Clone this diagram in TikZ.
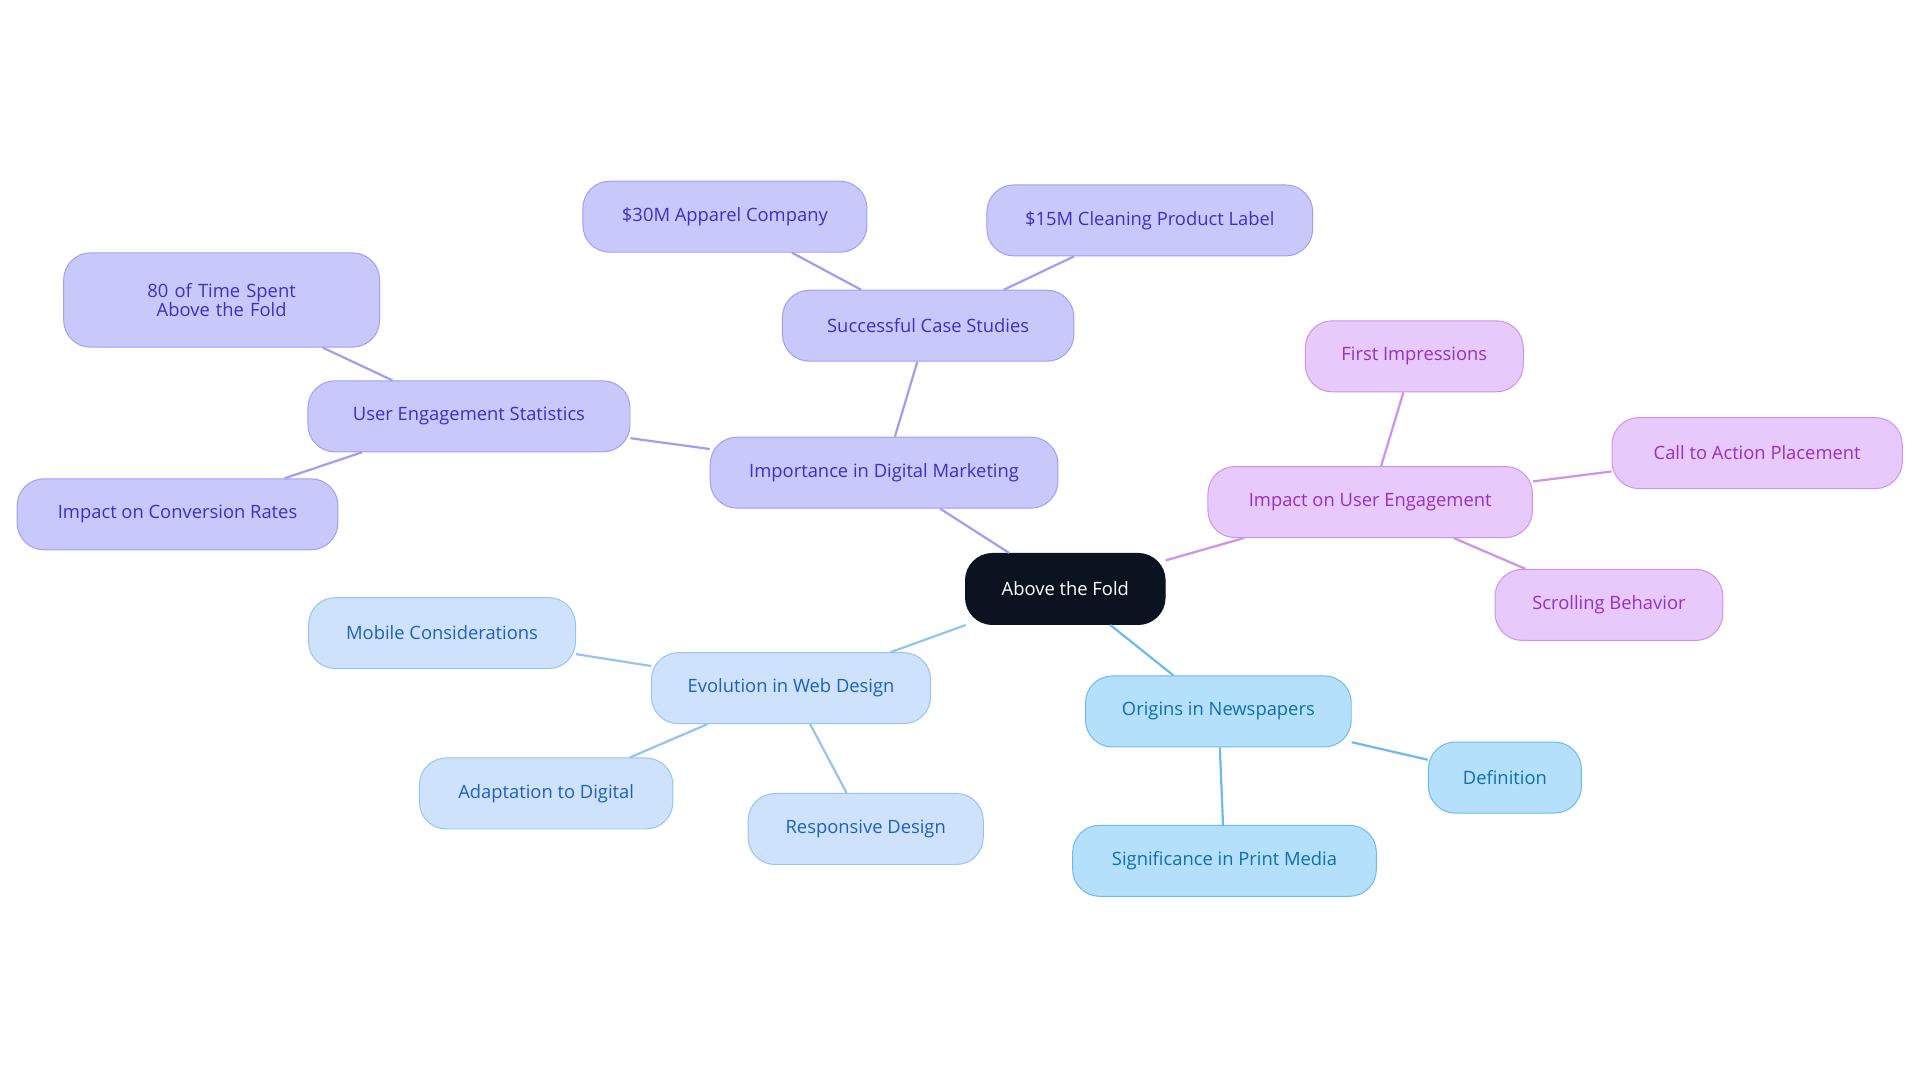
\documentclass[tikz,border=0pt]{standalone}
\usepackage{fontspec}
\setmainfont{Open Sans}
\definecolor{pf}{HTML}{C9C8FB}\definecolor{pd}{HTML}{A19EF2}\definecolor{pt}{HTML}{3A30C4}
\definecolor{mf}{HTML}{E8C9FB}\definecolor{md}{HTML}{CC92EE}\definecolor{mt}{HTML}{9430C4}
\definecolor{lf}{HTML}{CEE3FB}\definecolor{ld}{HTML}{96C3F0}\definecolor{lt}{HTML}{1F5FC0}
\definecolor{sf}{HTML}{B4E0FC}\definecolor{sd}{HTML}{6DB9EE}\definecolor{st}{HTML}{106DB0}
\definecolor{cf}{HTML}{0B1220}
\tikzset{base/.style={rounded corners=22pt,minimum height=58pt,font=\fontsize{15}{15}\selectfont,align=center,inner sep=4pt,line width=0.8pt},
pn/.style={base,fill=pf,draw=pd,text=pt},
mn/.style={base,fill=mf,draw=md,text=mt},
ln/.style={base,fill=lf,draw=ld,text=lt},
sn/.style={base,fill=sf,draw=sd,text=st},
ed/.style={line width=1.8pt}}
\begin{document}
\begin{tikzpicture}[x=1pt,y=-1pt]
\useasboundingbox (0,0) rectangle (1568,884);
\node[base,fill=cf,draw=cf,text=white,minimum width=163pt] (c) at (870,481) {Above the Fold};
\node[pn,minimum width=284pt] (imp) at (722,386) {Importance in Digital Marketing};
\node[pn,minimum width=238pt] (suc) at (758,266) {Successful Case Studies};
\node[pn,minimum width=232pt] (app) at (592,177) {\$30M Apparel Company};
\node[pn,minimum width=266pt] (cle) at (939,180) {\$15M Cleaning Product Label};
\node[pn,minimum width=263pt] (ues) at (383,340) {User Engagement Statistics};
\node[pn,minimum width=258pt,minimum height=77pt,text width=220pt,font=\fontsize{15}{16}\selectfont] (tim) at (181,245) {80 of Time Spent Above the Fold};
\node[pn,minimum width=262pt] (con) at (145,420) {Impact on Conversion Rates};
\node[mn,minimum width=265pt] (iue) at (1119,410) {Impact on User Engagement};
\node[mn,minimum width=178pt] (fir) at (1155,291) {First Impressions};
\node[mn,minimum width=237pt] (cta) at (1435,370) {Call to Action Placement};
\node[mn,minimum width=186pt] (scr) at (1314,494) {Scrolling Behavior};
\node[ln,minimum width=228pt] (evo) at (646,562) {Evolution in Web Design};
\node[ln,minimum width=218pt] (mob) at (361,517) {Mobile Considerations};
\node[ln,minimum width=207pt] (ada) at (446,648) {Adaptation to Digital};
\node[ln,minimum width=192pt] (res) at (707,677) {Responsive Design};
\node[sn,minimum width=217pt] (ori) at (995,581) {Origins in Newspapers};
\node[sn,minimum width=125pt] (def) at (1229,635) {Definition};
\node[sn,minimum width=248pt] (sig) at (1000,703) {Significance in Print Media};
\draw[ed,pd] (c)--(imp) (imp)--(suc) (suc)--(app) (suc)--(cle) (imp)--(ues) (ues)--(tim) (ues)--(con);
\draw[ed,md] (c)--(iue) (iue)--(fir) (iue)--(cta) (iue)--(scr);
\draw[ed,ld] (c)--(evo) (evo)--(mob) (evo)--(ada) (evo)--(res);
\draw[ed,sd] (c)--(ori) (ori)--(def) (ori)--(sig);
\end{tikzpicture}
\end{document}
